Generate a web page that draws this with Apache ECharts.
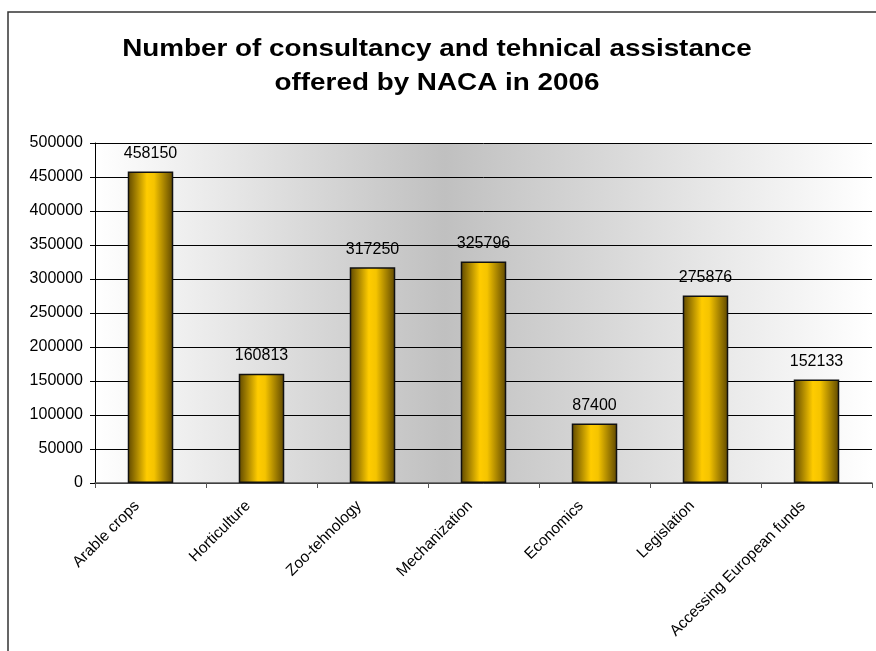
<!DOCTYPE html>
<html><head><meta charset="utf-8">
<script src="https://cdn.jsdelivr.net/npm/echarts@6/dist/echarts.min.js"></script>
<style>html,body{margin:0;padding:0;background:#fff}#c{width:876px;height:651px}</style>
</head><body><div id="c"></div>
<script>
const titleText = "Number of consultancy and tehnical assistance\noffered by NACA in 2006";
const categories = ["Arable crops","Horticulture","Zoo-tehnology","Mechanization","Economics","Legislation","Accessing European funds"];
const values = [458150,160813,317250,325796,87400,275876,152133];
const yTicks = {min:0,max:500000,interval:50000};

const chart = echarts.init(document.getElementById('c'));
const font = '"Liberation Sans", Arial, sans-serif';
chart.setOption({
  animation:false,
  backgroundColor:'#fff',
  graphic:[
    {type:'rect',shape:{x:8,y:12,width:1000,height:1000},style:{fill:'none',stroke:'#333',lineWidth:1.5},z:-1},
    {type:'text',x:437,y:32,scaleX:1.16,z:10,
      style:{text:titleText,textAlign:'center',textVerticalAlign:'top',
        font:'bold 24px "Liberation Sans", Arial, sans-serif',fill:'#000',lineHeight:34}}
  ],
  grid:{left:95,right:4,top:143,bottom:168,show:true,borderWidth:0,
    backgroundColor:new echarts.graphic.LinearGradient(0,0,1,0,[
      {offset:0,color:'#ffffff'},{offset:0.45,color:'#c0c0c0'},{offset:1,color:'#ffffff'}])},
  xAxis:{type:'category',data:categories,
    axisLine:{lineStyle:{color:'#555',width:1.5}},
    axisTick:{show:true,length:5,lineStyle:{color:'#555'}},
    axisLabel:{rotate:45,interval:0,margin:7,padding:[0,19,0,0],fontFamily:font,fontSize:15.5,color:'#000'}},
  yAxis:{type:'value',min:yTicks.min,max:yTicks.max,interval:yTicks.interval,
    axisLine:{show:true,lineStyle:{color:'#000'}},
    axisTick:{show:true,length:5,lineStyle:{color:'#000'}},
    splitLine:{lineStyle:{color:'#000',width:1}},
    axisLabel:{margin:12,fontFamily:font,fontSize:16,color:'#000',formatter:v=>String(v)}},
  series:[{type:'bar',data:values,barWidth:'41%',
    itemStyle:{borderColor:'#111',borderWidth:1.5,
      color:new echarts.graphic.LinearGradient(0,0,1,0,[
        {offset:0,color:'#5e4700'},{offset:0.42,color:'#ffcc00'},{offset:0.58,color:'#f5c400'},{offset:1,color:'#5e4700'}])},
    label:{show:true,position:'top',distance:10,fontFamily:font,fontSize:16,color:'#000'}}]
});
</script></body></html>
